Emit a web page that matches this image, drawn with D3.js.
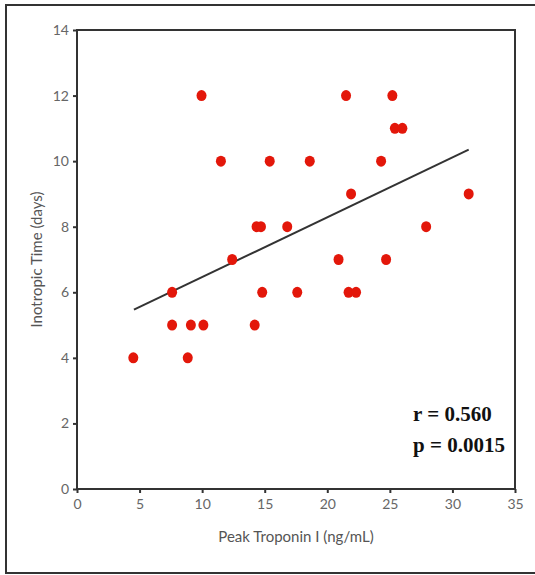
<!DOCTYPE html>
<html>
<head>
<meta charset="utf-8">
<script src="https://cdn.jsdelivr.net/npm/d3@7"></script>
<style>
  body { margin: 0; background: #fff; }
  svg { display: block; }
</style>
</head>
<body>
<svg width="535" height="575"></svg>
<script>
// peak troponin I (ng/mL) vs inotropic time (days)
var troponin = [4.5, 7.6, 7.6, 8.85, 9.1, 10.1, 9.95, 11.5, 12.4, 14.2, 14.35, 14.7,
  14.8, 15.4, 16.8, 17.6, 18.6, 20.9, 21.5, 21.9, 21.7, 22.3, 24.3, 24.7, 25.2,
  25.4, 26.0, 27.9, 31.3];
var days = [4, 6, 5, 4, 5, 5, 12, 10, 7, 5, 8, 8,
  6, 10, 8, 6, 10, 7, 12, 9, 6, 6, 10, 7, 12,
  11, 11, 8, 9];
// regression line end points
var fitX = [4.55, 31.3];
var fitY = [5.47, 10.35];
var xTicks = [0, 5, 10, 15, 20, 25, 30, 35];
var yTicks = [0, 2, 4, 6, 8, 10, 12, 14];
var stats = ["r = 0.560", "p = 0.0015"];

var svg = d3.select("svg");

// outer frame
svg.append("path")
  .attr("d", "M535,5 H6 V573 H535")
  .attr("fill", "none")
  .attr("stroke", "#333")
  .attr("stroke-width", 2);

var plotLeft = 77, plotRight = 515, plotTop = 30, plotBottom = 489;
var x = d3.scaleLinear().domain([0, 35]).range([plotLeft, plotRight]);
var y = d3.scaleLinear().domain([0, 14]).range([plotBottom, plotTop]);

// plot box
svg.append("rect")
  .attr("x", plotLeft).attr("y", plotTop)
  .attr("width", plotRight - plotLeft).attr("height", plotBottom - plotTop)
  .attr("fill", "none")
  .attr("stroke", "#333")
  .attr("stroke-width", 2);

var xAxis = d3.axisBottom(x).tickValues(xTicks).tickSize(4).tickPadding(6);
var yAxis = d3.axisLeft(y).tickValues(yTicks).tickSize(4).tickPadding(4);

var gx = svg.append("g").attr("transform", `translate(0,${plotBottom})`).call(xAxis);
var gy = svg.append("g").attr("transform", `translate(${plotLeft},0)`).call(yAxis);
[gx, gy].forEach(function (g) {
  g.select(".domain").remove();
  g.selectAll(".tick line").attr("stroke", "#333").attr("stroke-width", 2);
  g.selectAll(".tick text")
    .attr("fill", "#666")
    .style("font-family", "Lato")
    .style("font-size", "14px");
});

// axis titles
svg.append("text")
  .attr("x", (plotLeft + plotRight) / 2)
  .attr("y", 542)
  .attr("text-anchor", "middle")
  .attr("fill", "#555")
  .style("font-family", "Lato")
  .style("font-size", "15px")
  .text("Peak Troponin I (ng/mL)");

svg.append("text")
  .attr("transform", "translate(42," + (plotTop + plotBottom) / 2 + ") rotate(-90)")
  .attr("text-anchor", "middle")
  .attr("fill", "#555")
  .style("font-family", "Lato")
  .style("font-size", "15px")
  .text("Inotropic Time (days)");

// regression line
svg.append("line")
  .attr("x1", x(fitX[0])).attr("y1", y(fitY[0]))
  .attr("x2", x(fitX[1])).attr("y2", y(fitY[1]))
  .attr("stroke", "#333")
  .attr("stroke-width", 2);

// points
svg.selectAll("ellipse.pt")
  .data(troponin)
  .enter()
  .append("ellipse")
  .attr("class", "pt")
  .attr("cx", (d) => x(d))
  .attr("cy", (d, i) => y(days[i]))
  .attr("rx", 5)
  .attr("ry", 5.5)
  .attr("fill", "#e3170a");

// r and p values
svg.selectAll("text.stat")
  .data(stats)
  .enter()
  .append("text")
  .attr("class", "stat")
  .attr("x", 413)
  .attr("y", (d, i) => 421 + i * 31)
  .attr("fill", "#111")
  .style("font-family", "Liberation Serif")
  .style("font-weight", "bold")
  .style("font-size", "21px")
  .text((d) => d);
</script>
</body>
</html>
